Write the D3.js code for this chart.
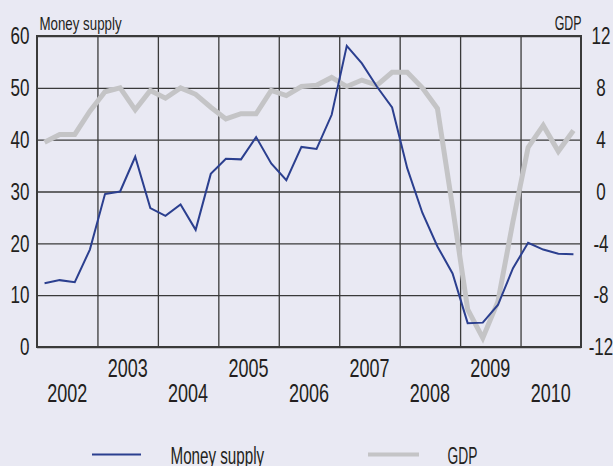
<!DOCTYPE html>
<html>
<head>
<meta charset="utf-8">
<script src="https://cdn.jsdelivr.net/npm/d3@7"></script>
<style>
  html, body { margin: 0; padding: 0; background: #e9e9f3; }
  svg { display: block; }
  text { font-family: "Liberation Sans", Arial, sans-serif; fill: #231f20; }
</style>
</head>
<body>
<svg id="chart" width="613" height="466"></svg>
<script>
// Calendar years on the x axis (one band per year, four quarters each)
const years = [2002, 2003, 2004, 2005, 2006, 2007, 2008, 2009, 2010];

// Quarterly money supply growth, left axis
const moneySupply = [
  12.3, 12.9, 12.5, 18.8,   // 2002
  29.5, 30.0, 36.7, 26.8,   // 2003
  25.3, 27.5, 22.6, 33.4,   // 2004
  36.3, 36.2, 40.5, 35.4,   // 2005
  32.2, 38.6, 38.2, 44.8,   // 2006
  58.1, 54.7, 50.2, 46.2,   // 2007
  34.5, 25.9, 19.4, 14.2,   // 2008
  4.6, 4.7, 8.1, 15.2,      // 2009
  20.1, 18.8, 18.0, 17.9    // 2010
];

// Quarterly GDP growth, right axis
const gdp = [
  3.8, 4.4, 4.4, 6.2,       // 2002
  7.7, 8.0, 6.3, 7.8,       // 2003
  7.2, 8.0, 7.5, 6.5,       // 2004
  5.6, 6.0, 6.0, 7.8,       // 2005
  7.4, 8.1, 8.2, 8.8,       // 2006
  8.1, 8.6, 8.2, 9.2,       // 2007
  9.2, 8.0, 6.4, -1.2,      // 2008
  -9.1, -11.3, -8.5, -2.3,  // 2009
  3.4, 5.1, 3.1, 4.7        // 2010
];

const leftTicks = [0, 10, 20, 30, 40, 50, 60];
const rightTicks = [-12, -8, -4, 0, 4, 8, 12];
const leftTitle = "Money supply";
const rightTitle = "GDP";
const seriesNames = ["Money supply", "GDP"];

const colors = { money: "#2b3f8f", gdp: "#c4c4c6", grid: "#3a3a3a" };

const svg = d3.select("#chart");
const plot = { left: 37, right: 581, top: 36, bottom: 347 };

const x = d3.scaleLinear()
  .domain([years[0], years[years.length - 1] + 1])
  .range([plot.left, plot.right]);
const yL = d3.scaleLinear().domain([0, 60]).range([plot.bottom, plot.top]);
const yR = d3.scaleLinear().domain([-12, 12]).range([plot.bottom, plot.top]);

// Quarter midpoint of observation i
const qx = i => x(years[0] + (i + 0.5) / 4);

// Condensed lettering: squeeze each label horizontally
function condense(sel, k) {
  sel.each(function () {
    const w = this.getComputedTextLength();
    d3.select(this).attr("textLength", w * k).attr("lengthAdjust", "spacingAndGlyphs");
  });
}

// Horizontal grid lines (left axis ticks)
svg.append("g")
  .attr("transform", `translate(${plot.left},0)`)
  .call(d3.axisLeft(yL).tickValues(leftTicks).tickSize(-(plot.right - plot.left)).tickFormat(""))
  .call(g => g.select(".domain").remove())
  .call(g => g.selectAll("line").attr("stroke", colors.grid).attr("stroke-width", 1.3));

// Vertical grid lines at year boundaries
svg.append("g")
  .attr("transform", `translate(0,${plot.bottom})`)
  .call(d3.axisBottom(x).tickValues(years.slice(1)).tickSize(-(plot.bottom - plot.top)).tickFormat(""))
  .call(g => g.select(".domain").remove())
  .call(g => g.selectAll("line").attr("stroke", colors.grid).attr("stroke-width", 1.3));

// Frame
svg.append("rect")
  .attr("x", plot.left).attr("y", plot.top)
  .attr("width", plot.right - plot.left).attr("height", plot.bottom - plot.top)
  .attr("fill", "none").attr("stroke", "#3a3a3a").attr("stroke-width", 2);

// Series lines
const gdpLine = d3.line().x((d, i) => qx(i)).y(d => yR(d));
const msLine = d3.line().x((d, i) => qx(i)).y(d => yL(d));

svg.append("path").datum(gdp)
  .attr("d", gdpLine).attr("fill", "none")
  .attr("stroke", colors.gdp).attr("stroke-width", 5).attr("stroke-linejoin", "miter");

svg.append("path").datum(moneySupply)
  .attr("d", msLine).attr("fill", "none")
  .attr("stroke", colors.money).attr("stroke-width", 2).attr("stroke-linejoin", "miter");

// Left tick labels
svg.append("g").selectAll("text").data(leftTicks).join("text")
  .attr("x", 29.5).attr("y", d => yL(d)).attr("dy", "0.36em")
  .attr("text-anchor", "end").attr("font-size", 23)
  .text(d => d)
  .call(condense, 0.74);

// Right tick labels
svg.append("g").selectAll("text").data(rightTicks).join("text")
  .attr("x", 601).attr("y", d => yR(d)).attr("dy", "0.36em")
  .attr("text-anchor", "middle").attr("font-size", 23)
  .text(d => d)
  .call(condense, 0.74);

// Axis titles
svg.append("text").attr("x", 39.5).attr("y", 30).attr("font-size", 19)
  .text(leftTitle).call(condense, 0.70);
svg.append("text").attr("x", 581.5).attr("y", 30).attr("font-size", 20)
  .attr("text-anchor", "end").text(rightTitle).call(condense, 0.62);

// Year labels, staggered on two rows
svg.append("g").selectAll("text").data(years).join("text")
  .attr("x", d => x(d + 0.5))
  .attr("y", (d, i) => i % 2 === 0 ? 401.5 : 376.5)
  .attr("text-anchor", "middle").attr("font-size", 25)
  .text(d => d)
  .call(condense, 0.72);

// Legend
const legend = svg.append("g");
legend.append("line").attr("x1", 92).attr("x2", 141).attr("y1", 454.5).attr("y2", 454.5)
  .attr("stroke", colors.money).attr("stroke-width", 2);
legend.append("text").attr("x", 170.5).attr("y", 463.5).attr("font-size", 23)
  .text(seriesNames[0]).call(condense, 0.66);
legend.append("line").attr("x1", 368).attr("x2", 419).attr("y1", 454.5).attr("y2", 454.5)
  .attr("stroke", colors.gdp).attr("stroke-width", 4);
legend.append("text").attr("x", 447.5).attr("y", 463.5).attr("font-size", 23)
  .text(seriesNames[1]).call(condense, 0.6);
</script>
</body>
</html>
